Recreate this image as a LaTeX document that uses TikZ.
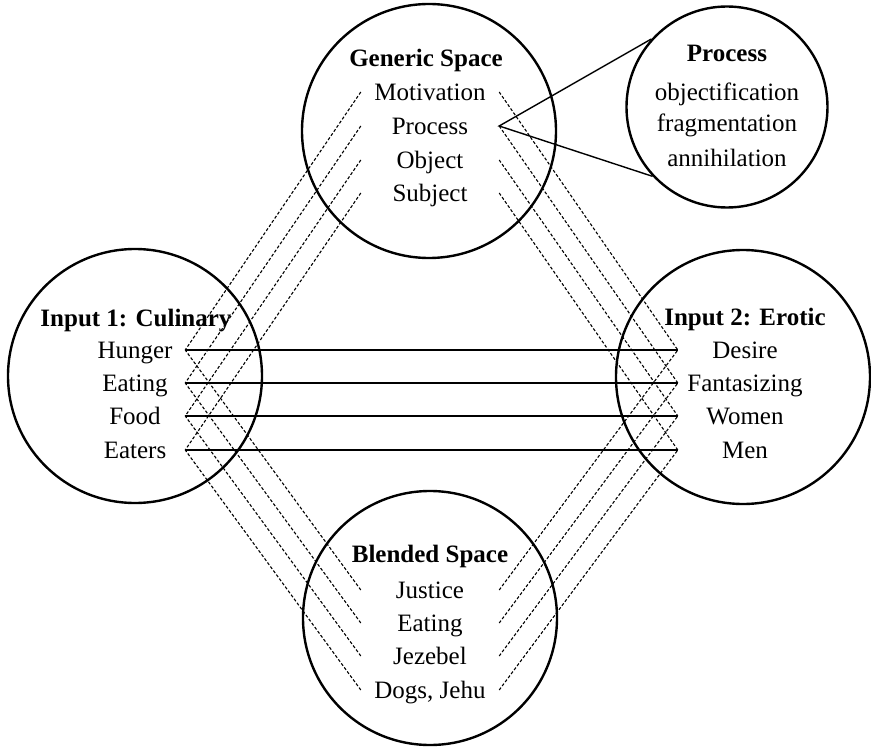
\documentclass[tikz,border=0pt]{standalone}
\usepackage{fontspec}
\setmainfont{Liberation Serif}
\begin{document}
\begin{tikzpicture}[x=1pt,y=-1pt,
  space/.style={circle,draw,line width=2.4pt,minimum size=254pt,inner sep=0pt},
  head/.style={font=\fontsize{25}{30}\selectfont\bfseries,inner sep=0pt,text height=17pt,text depth=0pt},
  item/.style={font=\fontsize{25}{30}\selectfont,inner sep=0pt,minimum width=138pt,text height=17pt,text depth=0pt},
  map/.style={dash pattern=on 3pt off 2pt,line width=1.1pt},
  link/.style={line width=1.4pt}]
\useasboundingbox (0,0) rectangle (871,749);
% the five spaces
\node[space] (gen) at (429,131) {};
\node[space] (in1) at (135,376) {};
\node[space] (in2) at (743,377) {};
\node[space] (bld) at (430,618) {};
\node[space,minimum size=201pt] (proc) at (727,107) {};
% titles
\node[head] (gent) at (426,58) {Generic Space};
\node[head] (in1t) at (136,318) {Input 1: Culinary};
\node[head] (in2t) at (745,317) {Input 2: Erotic};
\node[head] (bldt) at (430,554) {Blended Space};
\node[head] (proct) at (727,53) {Process};
% elements
\node[item] (mot) at (430,92) {Motivation};
\node[item] (pro) at (430,126) {Process};
\node[item] (obj) at (430,160) {Object};
\node[item] (sub) at (430,193) {Subject};
\node[item,minimum width=100pt] (hun) at (135,350) {Hunger};
\node[item,minimum width=100pt] (eat1) at (135,383) {Eating};
\node[item,minimum width=100pt] (food) at (135,416) {Food};
\node[item,minimum width=100pt] (eaters) at (135,450) {Eaters};
\node[item,minimum width=134pt] (des) at (745,350) {Desire};
\node[item,minimum width=134pt] (fan) at (745,383) {Fantasizing};
\node[item,minimum width=134pt] (wom) at (745,416) {Women};
\node[item,minimum width=134pt] (men) at (745,450) {Men};
\node[item] (jus) at (430,590) {Justice};
\node[item] (eat2) at (430,623) {Eating};
\node[item] (jez) at (430,656) {Jezebel};
\node[item] (dog) at (430,690) {Dogs, Jehu};
\node[item] (objf) at (727,92) {objectification};
\node[item] (frag) at (727,123) {fragmentation};
\node[item] (anni) at (727,158) {annihilation};
% mappings
\foreach \g/\a/\b/\c in {mot/hun/des/jus,pro/eat1/fan/eat2,obj/food/wom/jez,sub/eaters/men/dog}{
  \draw[map] (\g.west) -- (\a.east);
  \draw[map] (\g.east) -- (\b.west);
  \draw[map] (\c.west) -- (\a.east);
  \draw[map] (\c.east) -- (\b.west);
  \draw[link] (\a.east) -- (\b.west);
}
\draw[link] (proc.138) -- (pro.east) -- (proc.223);
\end{tikzpicture}
\end{document}
